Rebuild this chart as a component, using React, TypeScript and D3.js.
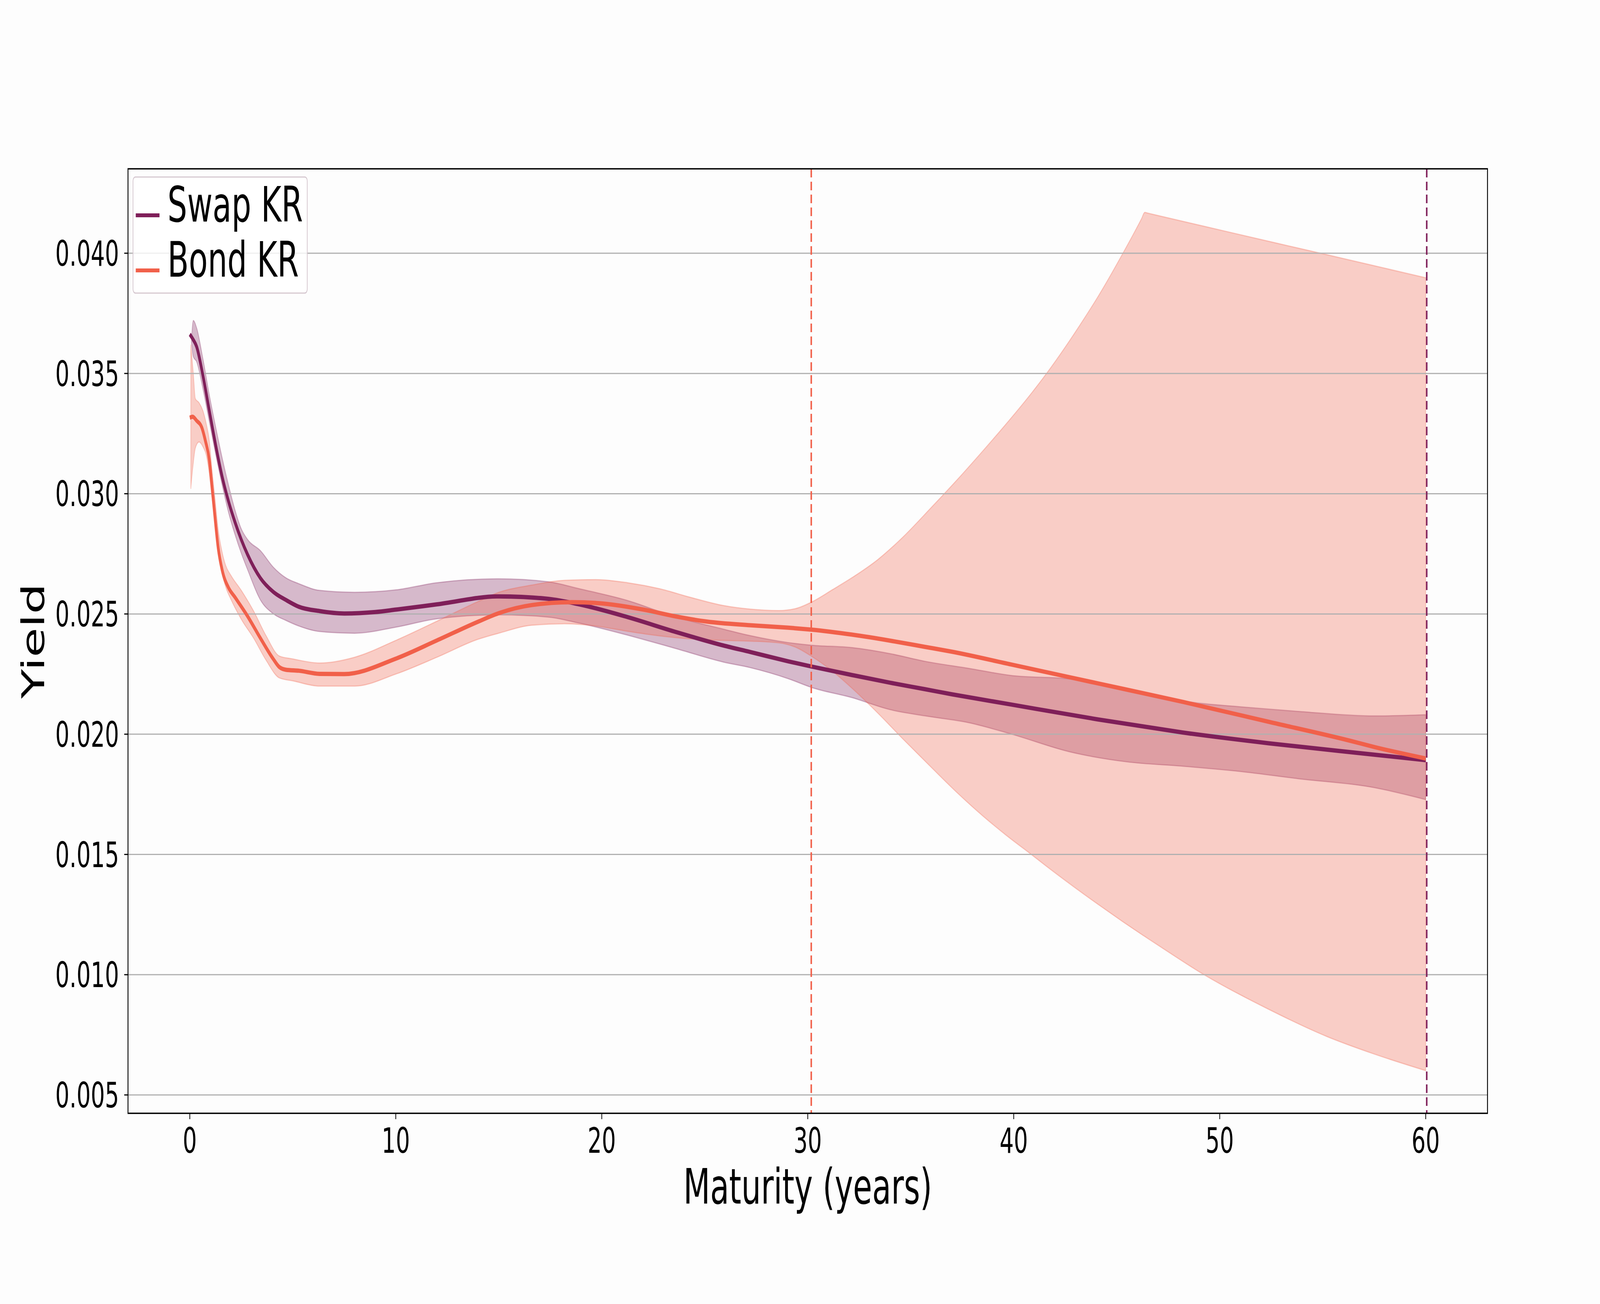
import React, { useEffect } from 'react';
import * as d3 from 'd3';

const W = 6400;
const H = 3337;

// ---------- data ----------
const swapMaturity = [0, 0.17, 0.33, 0.64, 0.95, 1.26, 1.57, 1.88, 2.19, 2.5, 2.81, 3.43, 4.05, 4.67, 5.29, 6.3, 7.5, 9, 10, 12, 15, 17.4, 18.9, 21.25, 23.6, 25.9, 27.2, 29.05, 30.2, 32.15, 34, 35.7, 37, 39.9, 44.05, 48.2, 52.4, 57.5, 60];
const swapYield = [0.03663, 0.0364, 0.03612, 0.0349, 0.03344, 0.032, 0.03071, 0.02968, 0.02883, 0.02809, 0.02746, 0.02649, 0.02592, 0.02558, 0.0253, 0.02512, 0.02502, 0.02508, 0.02518, 0.0254, 0.02573, 0.02563, 0.0254, 0.02487, 0.02425, 0.02369, 0.02342, 0.02303, 0.02281, 0.02246, 0.02214, 0.02187, 0.02166, 0.02123, 0.02062, 0.02007, 0.01962, 0.01915, 0.01892];

const swapBandMaturity = [0.08, 0.17, 0.33, 0.64, 0.95, 1.26, 1.57, 1.88, 2.19, 2.5, 2.81, 3.43, 4.05, 4.67, 5.29, 6.3, 8, 10, 12, 15, 17.4, 18.9, 21.25, 23.6, 25.9, 27.2, 29.05, 30.2, 32.15, 34, 35.7, 37.8, 39.9, 42.7, 45.5, 48.2, 51, 53.8, 57.5, 60];
const swapUpper = [0.03635, 0.0372, 0.0369, 0.0356, 0.0341, 0.03276, 0.0315, 0.03036, 0.02934, 0.02854, 0.02809, 0.02763, 0.02695, 0.0265, 0.02626, 0.02598, 0.0259, 0.026, 0.0263, 0.02646, 0.02634, 0.02605, 0.02556, 0.02487, 0.02437, 0.0241, 0.02381, 0.0237, 0.0236, 0.02335, 0.02303, 0.02274, 0.02244, 0.0223, 0.0219, 0.02138, 0.02114, 0.02095, 0.02076, 0.02081];
const swapLower = [0.0363, 0.0357, 0.03549, 0.03435, 0.03298, 0.03162, 0.03036, 0.02922, 0.02831, 0.02752, 0.02683, 0.02558, 0.02501, 0.02473, 0.0245, 0.02427, 0.0242, 0.02445, 0.0248, 0.02496, 0.02487, 0.02462, 0.02412, 0.02356, 0.023, 0.02277, 0.02231, 0.02194, 0.02152, 0.02102, 0.02076, 0.02048, 0.02, 0.01927, 0.01885, 0.01867, 0.01845, 0.01815, 0.01778, 0.01728];

const bondMaturity = [0, 0.14, 0.33, 0.58, 0.76, 0.95, 1.07, 1.2, 1.38, 1.57, 1.88, 2.19, 2.81, 3.43, 4.05, 4.35, 4.67, 5.29, 6.3, 7.5, 10, 12, 14, 15.06, 16.6, 18.55, 20.1, 22.03, 23.57, 25.12, 27.2, 29.05, 30.17, 32.15, 34, 35.7, 37, 39.87, 44.05, 48.23, 52.41, 56.32, 57.54, 60];
const bondYield = [0.03316, 0.0332, 0.03304, 0.03276, 0.03219, 0.03139, 0.03036, 0.02922, 0.02774, 0.02683, 0.02609, 0.0257, 0.0249, 0.02399, 0.02313, 0.02279, 0.02268, 0.02264, 0.02251, 0.0225, 0.02314, 0.0239, 0.02468, 0.02505, 0.02537, 0.02549, 0.02543, 0.02518, 0.0249, 0.02468, 0.02453, 0.02443, 0.02435, 0.02414, 0.02389, 0.02363, 0.02343, 0.0229, 0.02212, 0.02134, 0.02051, 0.01973, 0.01946, 0.01899];

const bondBandMaturity = [0.05, 0.1, 0.17, 0.27, 0.45, 0.64, 0.8, 0.95, 1.07, 1.2, 1.38, 1.57, 1.75, 2.0, 2.5, 3.1, 3.7, 4.35, 5.0, 6.3, 8, 10, 12, 14, 15, 16.6, 18.2, 19.7, 21.25, 22.8, 24.35, 25.9, 27.2, 28.6, 29.4, 30.2, 31.2, 32.15, 33.4, 34.6, 36, 37.2, 38.5, 39.6, 40.85, 41.6, 43.4, 44.05, 45.3, 46.2, 46.36, 46.5, 46.84, 49.2, 52.4, 55.2, 57.5, 60];
const bondUpper = [0.0362, 0.0357, 0.035, 0.03395, 0.03378, 0.03344, 0.0329, 0.03219, 0.03105, 0.03, 0.0285, 0.02757, 0.027, 0.0266, 0.02598, 0.02512, 0.0241, 0.02325, 0.02313, 0.02296, 0.0232, 0.0239, 0.0247, 0.02552, 0.0259, 0.0262, 0.0264, 0.02643, 0.0263, 0.02605, 0.02568, 0.02535, 0.0252, 0.02514, 0.02522, 0.0255, 0.02601, 0.02651, 0.02726, 0.02818, 0.02943, 0.03053, 0.03178, 0.03287, 0.03417, 0.03501, 0.03726, 0.03814, 0.04, 0.04143, 0.0417, 0.04167, 0.0416, 0.04113, 0.04049, 0.03994, 0.03948, 0.03898];
const bondLower = [0.0302, 0.0307, 0.03128, 0.0319, 0.03215, 0.03195, 0.0316, 0.03082, 0.0299, 0.029, 0.0275, 0.02666, 0.0261, 0.0256, 0.02478, 0.02399, 0.02308, 0.02234, 0.02222, 0.022, 0.022, 0.0225, 0.0232, 0.02395, 0.0242, 0.02453, 0.02459, 0.0245, 0.02428, 0.02409, 0.02396, 0.0239, 0.02387, 0.0238, 0.02362, 0.02323, 0.02262, 0.02191, 0.02088, 0.01982, 0.01862, 0.01761, 0.0166, 0.01582, 0.015, 0.0145, 0.01335, 0.01295, 0.0122, 0.01168, 0.01159, 0.01151, 0.01132, 0.01002, 0.00855, 0.00743, 0.0067, 0.00601];

const cutoffMaturities = [30.17, 60.05]; // bond, swap
const seriesLabels = ['Swap KR', 'Bond KR'];
const xTicks = [0, 10, 20, 30, 40, 50, 60];
const yTicks = [0.005, 0.01, 0.015, 0.02, 0.025, 0.03, 0.035, 0.04];
const xDomain = [-3, 63];
const yDomain = [0.004236, 0.04351];

// ---------- styles ----------
const SWAP = '#7f1f59';
const BOND = '#f1604a';
const FONT = "'DejaVu Sans', 'Liberation Sans', sans-serif";
const BG = '#fdfdfd';
const PL = 512, PR = 5950, PT = 432, PB = 2849;

type P = [number, number];
type B = [number, number, number];

export default function App() {
  useEffect(() => {
    document.body.style.margin = '0';
    document.body.style.overflow = 'hidden';
    document.body.style.background = BG;
  }, []);

  const x = d3.scaleLinear().domain(xDomain).range([PL, PR]);
  const y = d3.scaleLinear().domain(yDomain).range([PB, PT]);

  const line = d3.line<P>().x(d => x(d[0])).y(d => y(d[1])).curve(d3.curveMonotoneX);
  const area = d3.area<B>().x(d => x(d[0])).y0(d => y(d[1])).y1(d => y(d[2])).curve(d3.curveMonotoneX);

  const swapLine: P[] = swapMaturity.map((m, i) => [m, swapYield[i]]);
  const bondLine: P[] = bondMaturity.map((m, i) => [m, bondYield[i]]);
  const swapBand: B[] = swapBandMaturity.map((m, i) => [m, swapLower[i], swapUpper[i]]);
  const bondBand: B[] = bondBandMaturity.map((m, i) => [m, bondLower[i], bondUpper[i]]);

  const fmt = d3.format('.3f');
  const tickLen = 15;
  const tickFs = 89;
  const labelFs = 124;

  return (
    <svg viewBox={`0 0 ${W} ${H}`} preserveAspectRatio="none"
      style={{ position: 'fixed', left: 0, top: 0, width: '100vw', height: '100vh', display: 'block', background: BG }}
      fontFamily={FONT}>
      <rect x={0} y={0} width={W} height={H} fill={BG} />
      <defs>
        <clipPath id="plotclip">
          <rect x={PL} y={PT} width={PR - PL} height={PB - PT} />
        </clipPath>
      </defs>

      <g clipPath="url(#plotclip)">
        {/* bands */}
        <path d={area(swapBand) || ''} fill={SWAP} fillOpacity={0.3} stroke={SWAP} strokeOpacity={0.3} strokeWidth={3} />
        <path d={area(bondBand) || ''} fill={BOND} fillOpacity={0.3} stroke={BOND} strokeOpacity={0.3} strokeWidth={3} />

        {/* grid */}
        {yTicks.map(t => (
          <line key={'g' + t} x1={PL} x2={PR} y1={y(t)} y2={y(t)} stroke="#b0b0b0" strokeWidth={3} />
        ))}

        {/* lines */}
        <path d={line(swapLine) || ''} fill="none" stroke={SWAP} strokeWidth={11} strokeLinejoin="round" />
        <path d={line(bondLine) || ''} fill="none" stroke={BOND} strokeWidth={11} strokeLinejoin="round" />

        {/* cut-off lines */}
        <line x1={x(cutoffMaturities[0])} x2={x(cutoffMaturities[0])} y1={PT} y2={PB}
          stroke={BOND} strokeWidth={6} strokeDasharray="22 11" />
        <line x1={x(cutoffMaturities[1])} x2={x(cutoffMaturities[1])} y1={PT} y2={PB}
          stroke={SWAP} strokeWidth={6} strokeDasharray="22 11" />
      </g>

      {/* spines */}
      <rect x={PL} y={PT} width={PR - PL} height={PB - PT} fill="none" stroke="#000" strokeWidth={3.5} />

      {/* x axis */}
      {xTicks.map(t => (
        <g key={'x' + t}>
          <line x1={x(t)} x2={x(t)} y1={PB} y2={PB + tickLen} stroke="#000" strokeWidth={3} />
          <text x={x(t)} y={2950} fontSize={tickFs} textAnchor="middle" fill="#000">{t}</text>
        </g>
      ))}
      {/* y axis */}
      {yTicks.map(t => (
        <g key={'y' + t}>
          <line x1={PL - tickLen} x2={PL} y1={y(t)} y2={y(t)} stroke="#000" strokeWidth={3} />
          <text x={476} y={y(t) + 32} fontSize={tickFs} textAnchor="end" fill="#000">{fmt(t)}</text>
        </g>
      ))}

      <text x={(PL + PR) / 2} y={3080} fontSize={labelFs} textAnchor="middle" fill="#000">Maturity (years)</text>
      <text transform={`translate(176, ${(PT + PB) / 2}) rotate(-90)`} fontSize={labelFs} textAnchor="middle" fill="#000">Yield</text>

      {/* legend */}
      <g>
        <rect x={532} y={453} width={697} height={297} rx={10} ry={10} fill="#ffffff" fillOpacity={0.8}
          stroke="#d6c8d0" strokeWidth={3} />
        {seriesLabels.map((lab, i) => {
          const cy = 551 + i * 141;
          return (
            <g key={lab}>
              <line x1={543} x2={638} y1={cy} y2={cy} stroke={i === 0 ? SWAP : BOND} strokeWidth={10} />
              <text x={670} y={cy + 16} fontSize={labelFs} fill="#000">{lab}</text>
            </g>
          );
        })}
      </g>
    </svg>
  );
}
